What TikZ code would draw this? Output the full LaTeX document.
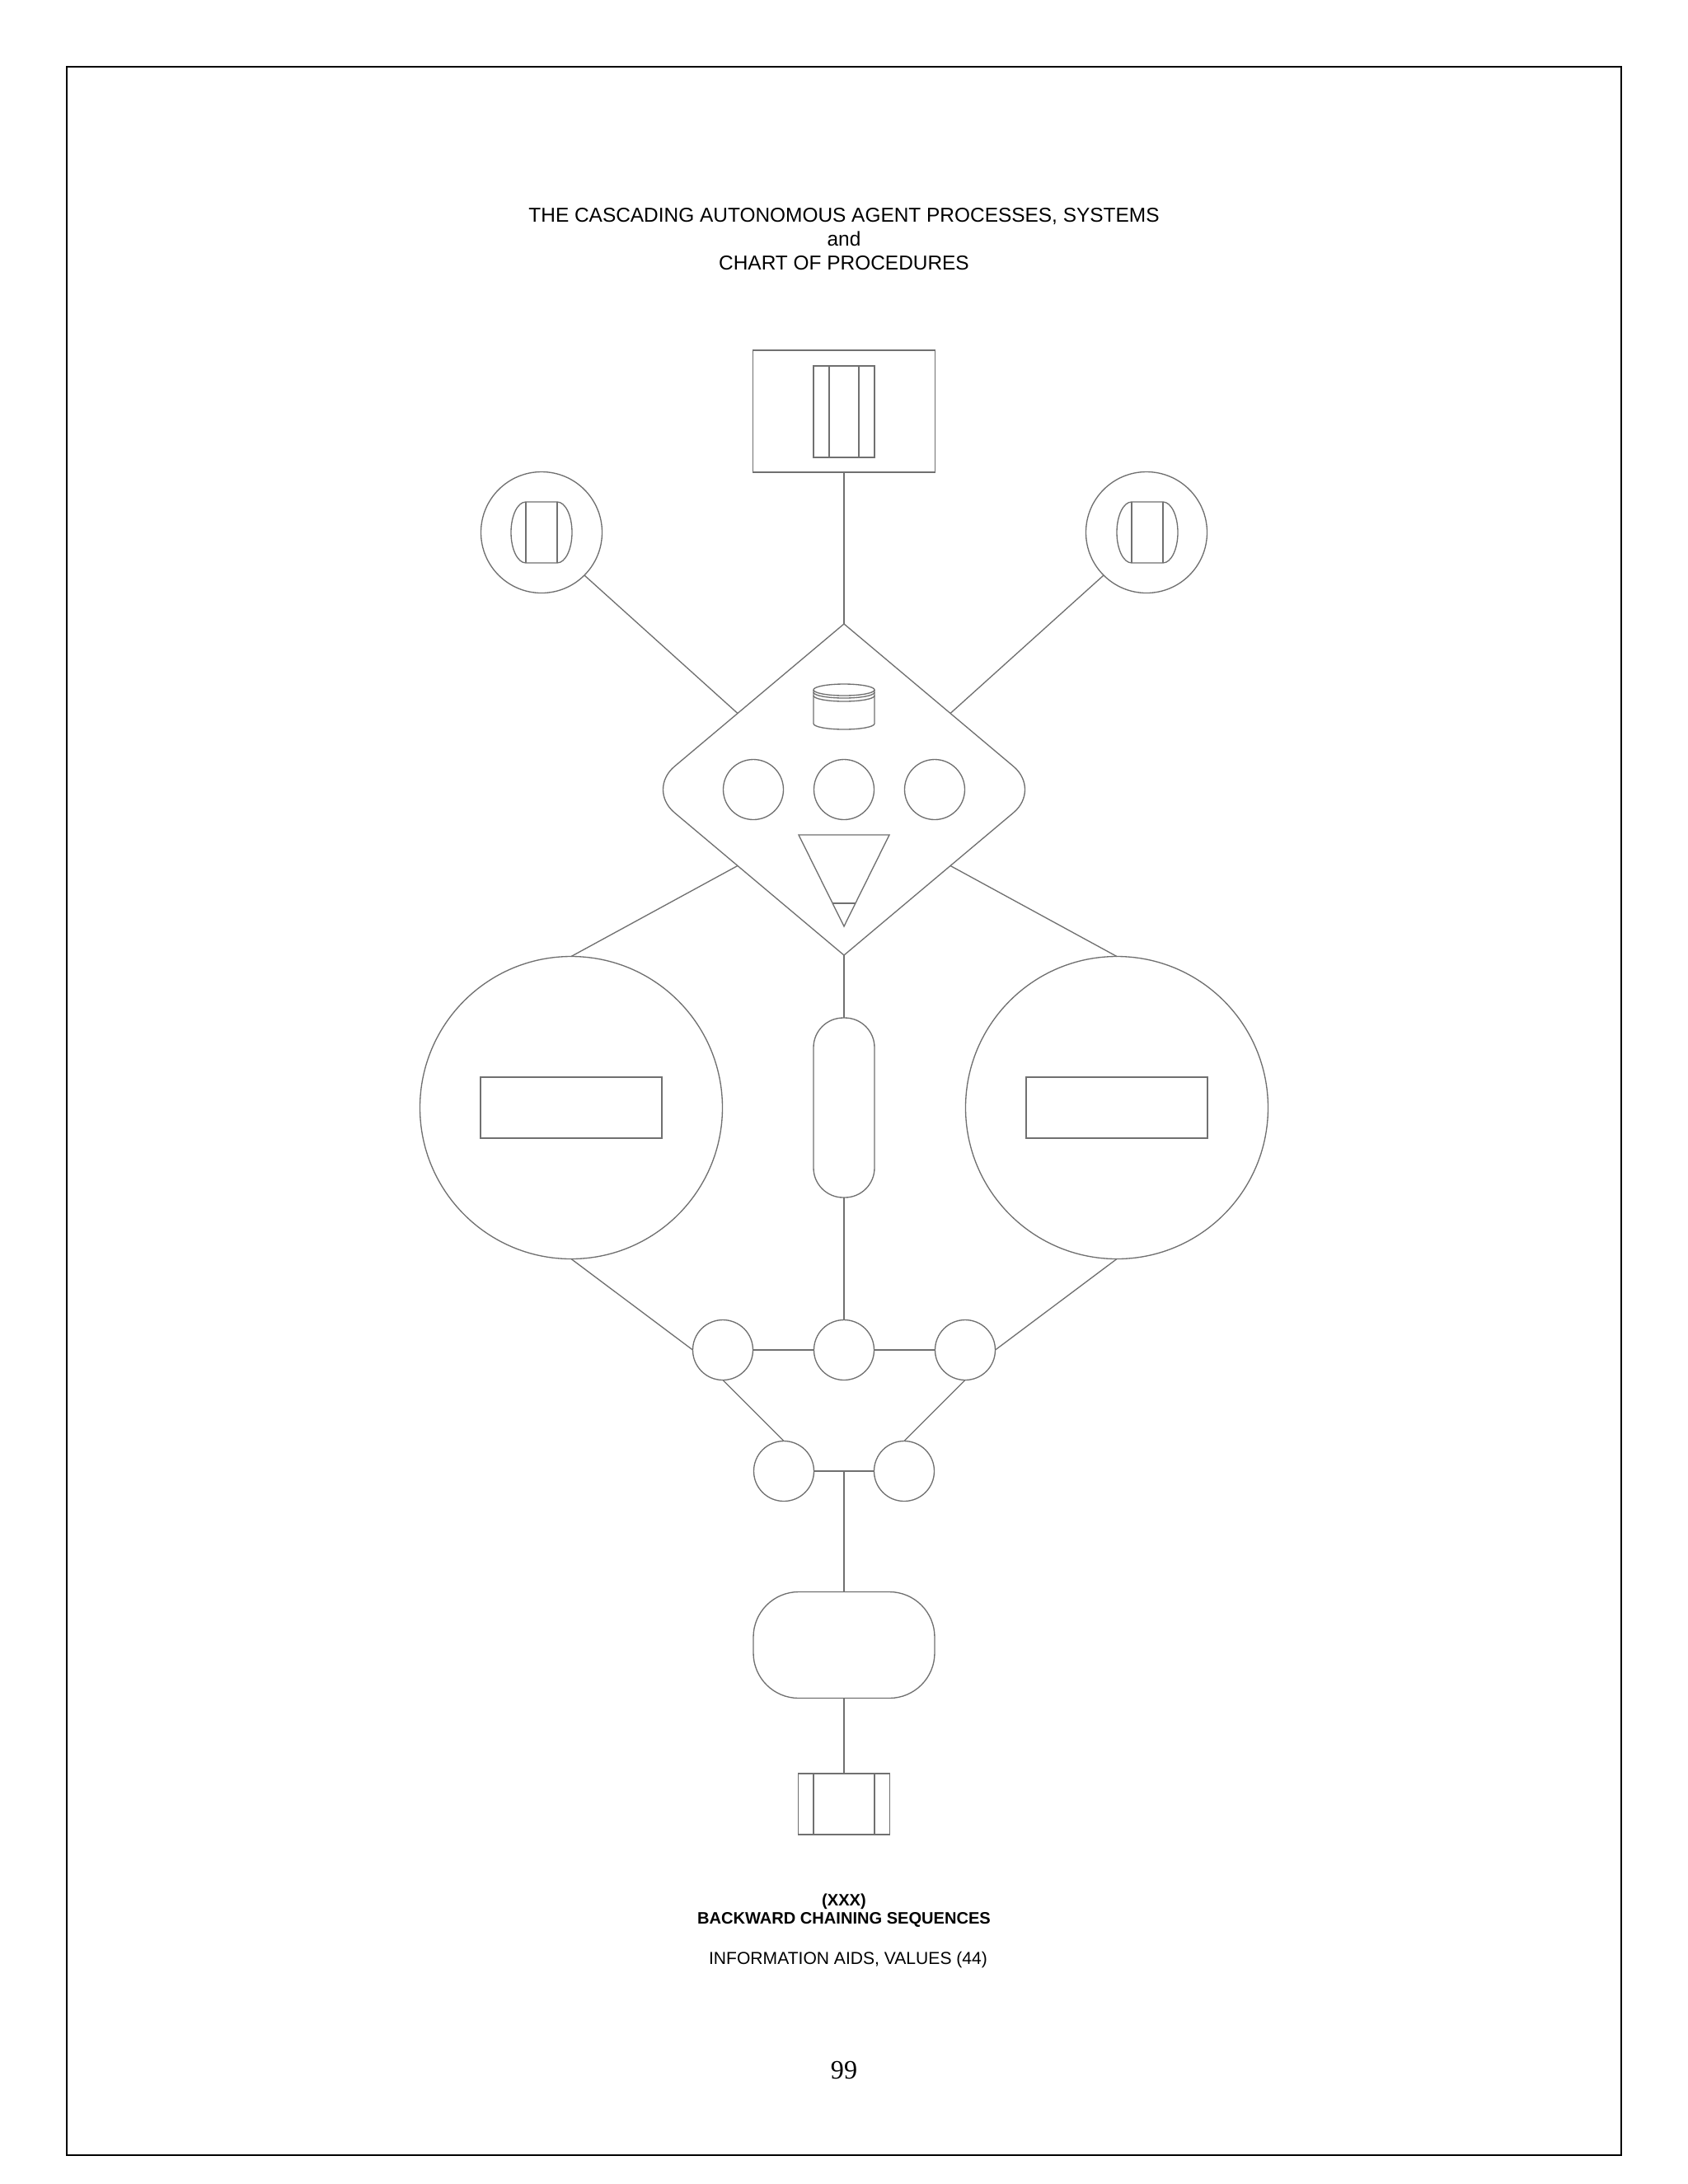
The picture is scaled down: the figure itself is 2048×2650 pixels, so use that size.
\documentclass[tikz,border=0pt]{standalone}
\usepackage{fontspec}
\usepackage{tikz}
\usetikzlibrary{shapes.geometric,calc}
\newfontfamily\chartfont{Liberation Sans}
\newfontfamily\foliofont{Liberation Serif}
\definecolor{linegray}{RGB}{112,112,112}
\newlength{\pxu}
\setlength{\pxu}{0.29883pt}

\begin{document}
\begin{tikzpicture}[x=0.29883pt, y=-0.29883pt,
        chartline/.style={draw=linegray, line width=0.4pt},
        pageframe/.style={draw=black, line width=0.7pt},
        ring/.style={circle, chartline, inner sep=0pt, outer sep=0pt, minimum size=#1*\pxu},
        box/.style={rectangle, chartline, inner sep=0pt, outer sep=0pt},
        caption/.style={anchor=base, inner sep=0pt, font=\chartfont\fontsize{#1}{#1}\selectfont},
        boldcaption/.style={anchor=base, inner sep=0pt, font=\chartfont\bfseries\fontsize{#1}{#1}\selectfont}]
        \useasboundingbox (0,0) rectangle (2048,2650);
        % 外框
        \draw[pageframe] (81,81) rectangle (1967,2615);
        % 标题
        \node[caption=7.3] (title1) at (1024,269) {THE CASCADING AUTONOMOUS AGENT PROCESSES, SYSTEMS};
        \node[caption=7.3] (title2) at (1024,298) {and};
        \node[caption=7.3] (title3) at (1024,327) {CHART OF PROCEDURES};
        % 顶部方框
        \node[box, minimum width=221*\pxu, minimum height=148*\pxu] (topbox) at (1024,499) {};
        \draw[chartline] (987,444) rectangle (1061,555);
        \draw[chartline] (1006,444) -- (1006,555);
        \draw[chartline] (1042,444) -- (1042,555);
        % 两个小圆
        \node[ring=147] (lc) at (657,646) {};
        \node[ring=147] (rc) at (1391,646) {};
        \draw[chartline] (638,609) -- (676,609) arc[start angle=270, end angle=450, x radius=18, y radius=37]
                -- (638,683) arc[start angle=90, end angle=270, x radius=18, y radius=37] -- cycle;
        \draw[chartline] (638,609) -- (638,683) (676,609) -- (676,683);
        \draw[chartline] (1373,609) -- (1411,609) arc[start angle=270, end angle=450, x radius=18, y radius=37]
                -- (1373,683) arc[start angle=90, end angle=270, x radius=18, y radius=37] -- cycle;
        \draw[chartline] (1373,609) -- (1373,683) (1411,609) -- (1411,683);
        % 菱形
        \node[diamond, inner sep=0pt, outer sep=0pt, minimum width=478*\pxu, minimum height=402*\pxu] (hub) at (1024,958) {};
        \draw[chartline] (hub.north west) -- (hub.north) [rounded corners=13pt] -- (hub.east)
                [sharp corners] -- (hub.south) [rounded corners=13pt] -- (hub.west) [sharp corners] -- cycle;
        \coordinate (hubnw) at ($(hub.west)!0.46!(hub.north)$);
        \coordinate (hubne) at ($(hub.east)!0.46!(hub.north)$);
        \coordinate (hubsw) at ($(hub.west)!0.46!(hub.south)$);
        \coordinate (hubse) at ($(hub.east)!0.46!(hub.south)$);
        % 圆柱
        \draw[chartline] (1024,837) ellipse[x radius=37, y radius=7];
        \draw[chartline] (987,837) -- (987,878) arc[start angle=180, end angle=0, x radius=37, y radius=7] -- (1061,837);
        \draw[chartline] (987,840) arc[start angle=180, end angle=0, x radius=37, y radius=7];
        \draw[chartline] (987,844) arc[start angle=180, end angle=0, x radius=37, y radius=7];
        % 三个圆
        \node[ring=73] (hubdot1) at (914,958) {};
        \node[ring=73] (hubdot2) at (1024,958) {};
        \node[ring=73] (hubdot3) at (1134,958) {};
        % 三角形
        \draw[chartline] (969,1013) -- (1079,1013) -- (1024,1124) -- cycle;
        \draw[chartline] (1010,1096) -- (1038,1096);
        % 连线
        \draw[chartline] (topbox.south) -- (hub.north);
        \draw[chartline] (lc.south east) -- (hubnw);
        \draw[chartline] (rc.south west) -- (hubne);
        % 两个大圆
        \node[ring=367] (bl) at (693,1344) {};
        \node[ring=367] (br) at (1355,1344) {};
        \draw[chartline] (583,1307) rectangle (803,1381);
        \draw[chartline] (1245,1307) rectangle (1465,1381);
        % 中间胶囊
        \node[box, rounded corners=36*\pxu, minimum width=74*\pxu, minimum height=218*\pxu] (stem) at (1024,1344) {};
        \draw[chartline] (hubsw) -- (bl.north);
        \draw[chartline] (hubse) -- (br.north);
        \draw[chartline] (hub.south) -- (stem.north);
        % 五个小圆
        \node[ring=73] (m1) at (877,1638) {};
        \node[ring=73] (m2) at (1024,1638) {};
        \node[ring=73] (m3) at (1171,1638) {};
        \node[ring=73] (n1) at (951,1785) {};
        \node[ring=73] (n2) at (1097,1785) {};
        \coordinate (join) at (1024,1785);
        \draw[chartline] (bl.south) -- (m1.west);
        \draw[chartline] (br.south) -- (m3.east);
        \draw[chartline] (stem.south) -- (m2.north);
        \draw[chartline] (m1) -- (m2);
        \draw[chartline] (m2) -- (m3);
        \draw[chartline] (m1.south) -- (n1.north);
        \draw[chartline] (m3.south) -- (n2.north);
        \draw[chartline] (n1) -- (n2);
        % 底部
        \node[box, rounded corners=55*\pxu, minimum width=220*\pxu, minimum height=129*\pxu] (cap) at (1024,1996) {};
        \node[box, minimum width=111*\pxu, minimum height=74*\pxu] (tail) at (1024,2189) {};
        \draw[chartline] (987,2152) -- (987,2226);
        \draw[chartline] (1061,2152) -- (1061,2226);
        \draw[chartline] (join) -- (cap.north);
        \draw[chartline] (cap.south) -- (tail.north);
        % 说明文字
        \node[boldcaption=6] (code) at (1024,2312) {(XXX)};
        \node[boldcaption=6] (heading) at (1024,2334) {BACKWARD CHAINING SEQUENCES};
        \node[caption=6.3] (aids) at (1029,2383) {INFORMATION AIDS, VALUES (44)};
        \node[anchor=base, inner sep=0pt, font=\foliofont\fontsize{9.6}{9.6}\selectfont] (folio) at (1024,2522) {99};
      \end{tikzpicture}
\end{document}
